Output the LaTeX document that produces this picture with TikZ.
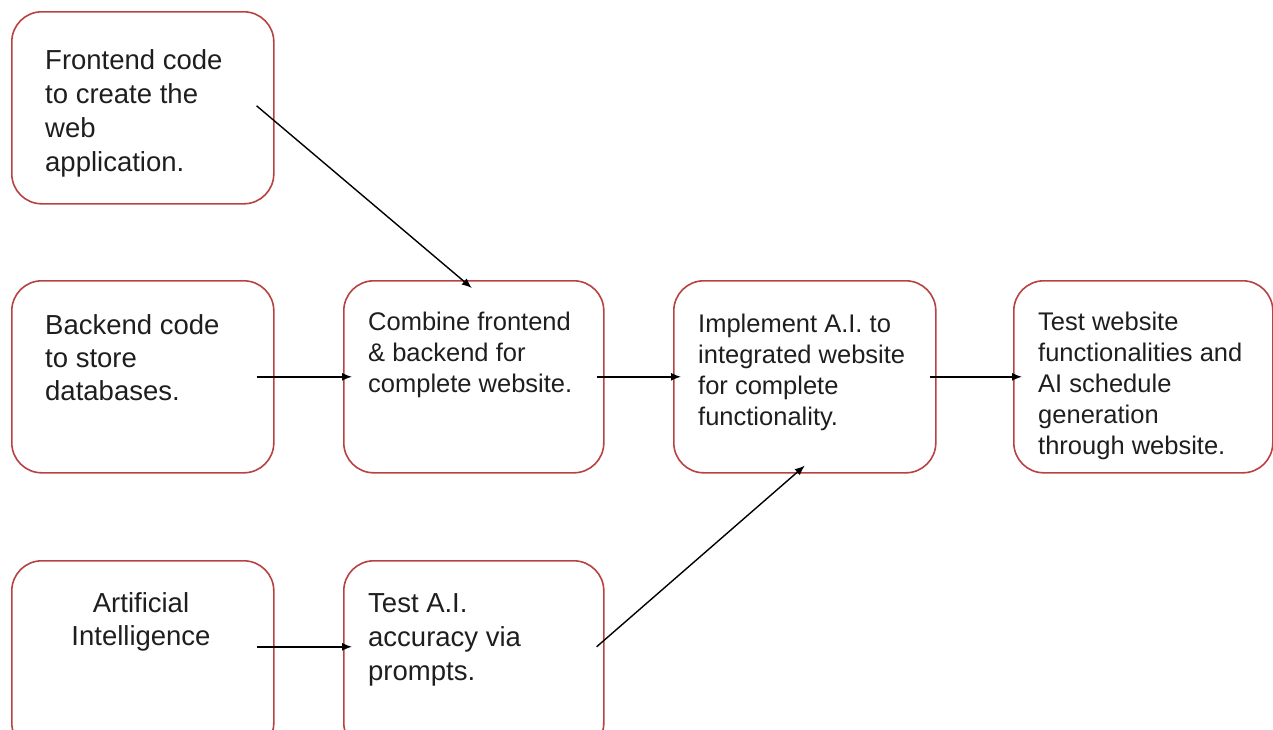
\documentclass[tikz,border=0pt]{standalone}
\usepackage{fontspec}
\setmainfont{Liberation Sans}
\usetikzlibrary{arrows.meta}
\definecolor{boxred}{RGB}{184,66,66}
\definecolor{inkgray}{RGB}{30,30,30}

\tikzset{
	stepbox/.style={draw=boxred, line width=1.6pt, rounded corners=30pt, minimum width=260pt, minimum height=192pt, inner sep=0pt, anchor=north west},
	bigtext/.style={anchor=base west, align=left, inner sep=0pt, text=inkgray, font=\fontsize{27.5}{34}\selectfont},
	smalltext/.style={anchor=base west, align=left, inner sep=0pt, text=inkgray, font=\fontsize{25.5}{31}\selectfont},
	flow/.style={-{Latex[length=10pt,width=8pt]}, line width=1.4pt, black}
}

\begin{document}
\begin{tikzpicture}[x=1pt, y=-1pt]
	\useasboundingbox (0,0) rectangle (1273,729);
	\clip (0,0) rectangle (1273,729);
	% boxes
	\node[stepbox, minimum width=262pt] (front) at (11,11) {};
	\node[stepbox, minimum width=262pt] (back) at (11,280) {};
	\node[stepbox, minimum width=262pt] (ai) at (11,560) {};
	\node[stepbox] (combine) at (343,280) {};
	\node[stepbox] (testai) at (343,560) {};
	\node[stepbox, minimum width=262pt] (implement) at (673,280) {};
	\node[stepbox, minimum width=259pt] (testweb) at (1013,280) {};
	% texts (placed at the baseline of their last line)
	\node[bigtext] (frontTxt) at (45,171) {Frontend code\\to create the\\web\\application.};
	\node[bigtext, font=\fontsize{27.5}{33}\selectfont] (backTxt) at (45,400) {Backend code\\to store\\databases.};
	\node[bigtext, anchor=base, align=center, font=\fontsize{27.5}{33}\selectfont] (aiTxt) at (141,645) {Artificial\\Intelligence};
	\node[smalltext] (combineTxt) at (368,392) {Combine frontend\\\& backend for\\complete website.};
	\node[bigtext] (testaiTxt) at (368,680) {Test A.I.\\accuracy via\\prompts.};
	\node[smalltext] (implementTxt) at (698,425) {Implement A.I. to\\integrated website\\for complete\\functionality.};
	\node[smalltext] (testwebTxt) at (1038,454) {Test website\\functionalities and\\AI schedule\\generation\\through website.};
	% arrows
	\draw[flow] ([xshift=-18pt,yshift=2pt]front.east) -- ([xshift=-2pt,yshift=-8pt]combine.north);
	\draw[flow] ([xshift=-18pt]back.east) -- ([xshift=9pt]combine.west);
	\draw[flow] ([xshift=-8pt]combine.east) -- ([xshift=8pt]implement.west);
	\draw[flow] ([xshift=-7pt]implement.east) -- ([xshift=9pt]testweb.west);
	\draw[flow] ([xshift=-18pt,yshift=10pt]ai.east) -- ([xshift=9pt,yshift=10pt]testai.west);
	\draw[flow] ([xshift=-8pt,yshift=10pt]testai.east) -- ([yshift=8pt]implement.south);
\end{tikzpicture}
\end{document}
